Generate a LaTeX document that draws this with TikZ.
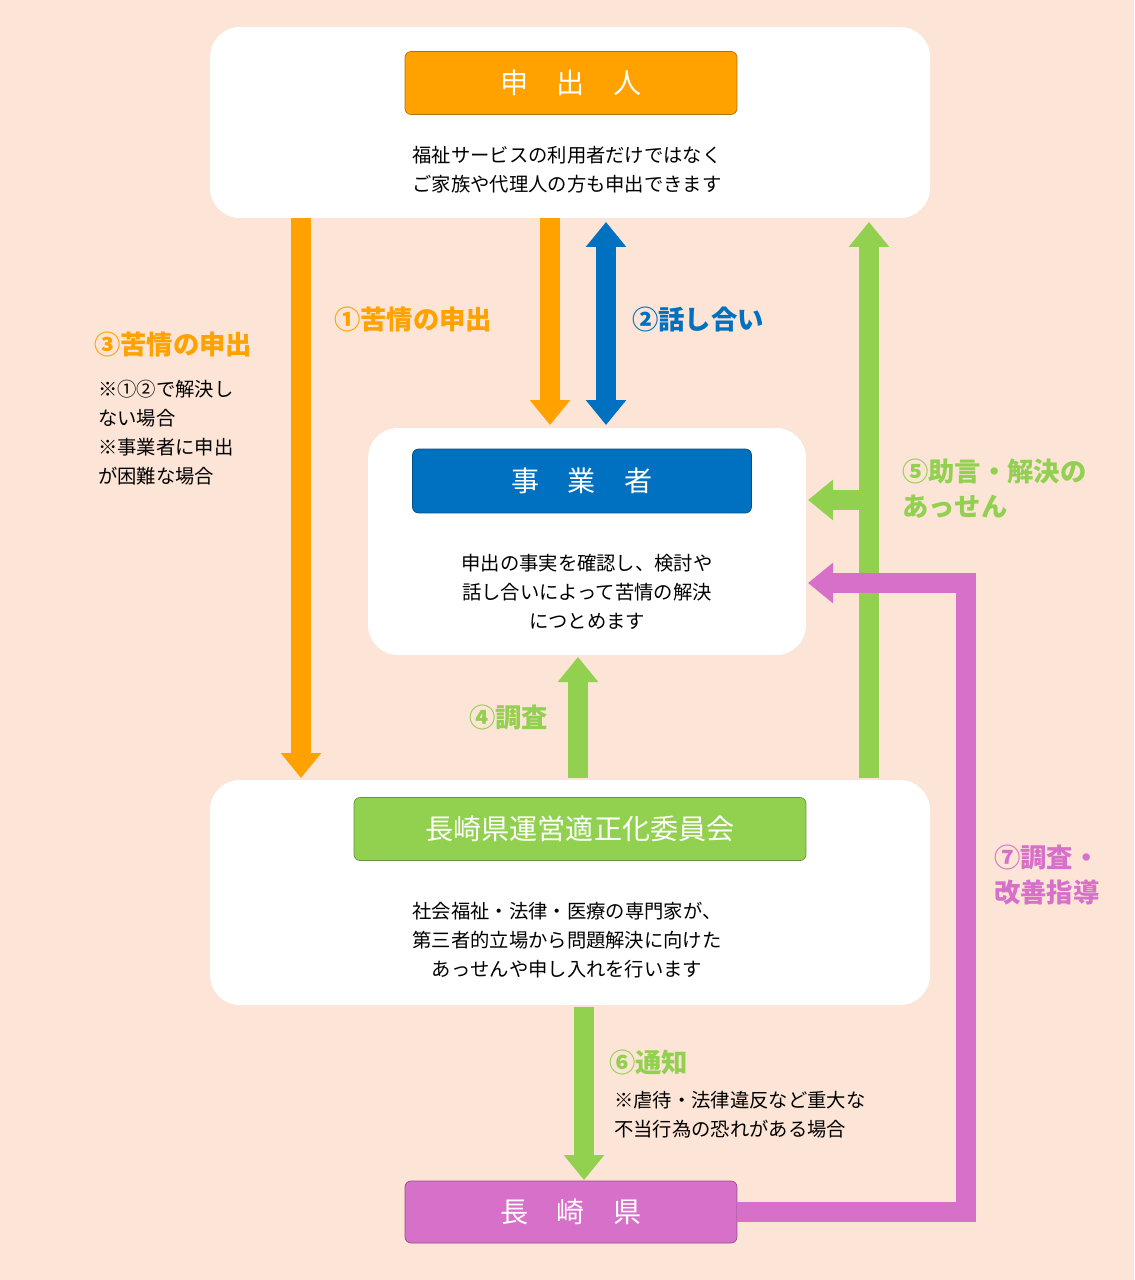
\documentclass[tikz,border=0pt]{standalone}
\usepackage{fontspec}
\setmainfont{Noto Sans CJK JP}
\usetikzlibrary{arrows.meta}
\definecolor{bgpeach}{HTML}{FCE4D6}
\definecolor{korange}{HTML}{FFA200}
\definecolor{kblue}{HTML}{0070C0}
\definecolor{kgreen}{HTML}{92D050}
\definecolor{kpink}{HTML}{D670C8}
\tikzset{
  panel/.style={fill=white,rounded corners=0.6cm,draw=none},
  head/.style={draw=#1!70!black,fill=#1,rounded corners=0.12cm,text=white,font=\fontsize{16}{16}\selectfont},
  body/.style={align=center,font=\fontsize{11}{16.5}\selectfont},
  lab/.style={text=#1,font=\fontsize{15}{20}\selectfont\bfseries,anchor=west,align=left},
  note/.style={anchor=north west,align=left,font=\fontsize{11}{16.5}\selectfont},
  fat/.style={draw=#1,line width=0.4cm,-{Triangle[width=0.78cm,length=0.5cm]}},
  fatboth/.style={draw=#1,line width=0.4cm,{Triangle[width=0.78cm,length=0.5cm]}-{Triangle[width=0.78cm,length=0.5cm]}}
}
\begin{document}
\begin{tikzpicture}[x=0.02cm,y=-0.02cm]
  \fill[bgpeach] (0,0) rectangle (1134,1280);
  \useasboundingbox (0,0) rectangle (1134,1280);
  % boxes
  \fill[panel] (210,27) rectangle (930,218);
  \fill[panel] (368,428) rectangle (806,655);
  \fill[panel] (210,780) rectangle (930,1005);
  \node[head=korange,minimum width=6.64cm,minimum height=1.26cm] (moushi) at (571,83) {申\quad 出\quad 人};
  \node[body] (moushitxt) at (567,170) {福祉サービスの利用者だけではなく\\ご家族や代理人の方も申出できます};
  \node[head=kblue,minimum width=6.78cm,minimum height=1.28cm] (jigyo) at (582,481) {事\quad 業\quad 者};
  \node[body] (jigyotxt) at (587,592) {申出の事実を確認し、検討や\\話し合いによって苦情の解決\\につとめます};
  \node[head=kgreen,minimum width=9.04cm,minimum height=1.26cm] (iinkai) at (580,829) {長崎県運営適正化委員会};
  \node[body] (iinkaitxt) at (567,940) {社会福祉・法律・医療の専門家が、\\第三者的立場から問題解決に向けた\\あっせんや申し入れを行います};
  \node[head=kpink,minimum width=6.64cm,minimum height=1.24cm] (ken) at (571,1212) {長\quad 崎\quad 県};
  % anchor points
  \coordinate (a3s) at (301,218); \coordinate (a3e) at (301,778);
  \coordinate (a1s) at (550,218); \coordinate (a1e) at (550,425);
  \coordinate (a2s) at (606,222); \coordinate (a2e) at (606,425);
  \coordinate (a5s) at (869,778); \coordinate (a5e) at (869,222);
  \coordinate (a5b) at (869,500); \coordinate (a5t) at (808,500);
  \coordinate (a4s) at (578,778); \coordinate (a4e) at (578,657);
  \coordinate (a6s) at (584,1007); \coordinate (a6e) at (584,1180);
  \coordinate (a7c) at (966,1212); \coordinate (a7u) at (966,583); \coordinate (a7e) at (808,583);
  % arrows
  \draw[fat=korange] (a3s) -- (a3e);
  \draw[fat=korange] (a1s) -- (a1e);
  \draw[fatboth=kblue] (a2s) -- (a2e);
  \draw[fat=kgreen] (a5s) -- (a5e);
  \draw[fat=kgreen] (a5b) -- (a5t);
  \draw[fat=kgreen] (a4s) -- (a4e);
  \draw[fat=kgreen] (a6s) -- (a6e);
  \draw[fat=kpink,line join=miter] (ken.east) -- (a7c) -- (a7u) -- (a7e);
  % labels
  \node[lab=korange] (l3) at (88,345) {③苦情の申出};
  \node[note] (n3) at (92,374) {※①②で解決し\\ない場合\\※事業者に申出\\が困難な場合};
  \node[lab=korange] (l1) at (328,320) {①苦情の申出};
  \node[lab=kblue] (l2) at (626,320) {②話し合い};
  \node[lab=kgreen] (l4) at (463,718) {④調査};
  \node[lab=kgreen] (l5) at (896,489) {⑤助言・解決の\\あっせん};
  \node[lab=kgreen] (l6) at (603,1062) {⑥通知};
  \node[note] (n6) at (608,1085) {※虐待・法律違反など重大な\\不当行為の恐れがある場合};
  \node[lab=kpink] (l7) at (988,875) {⑦調査・\\改善指導};
\end{tikzpicture}
\end{document}
